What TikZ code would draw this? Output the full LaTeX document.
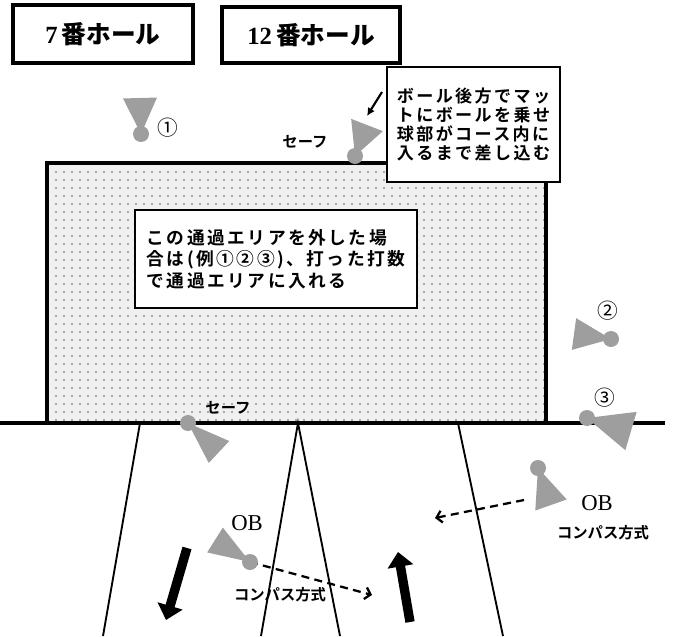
\documentclass[tikz,border=0pt]{standalone}
\usepackage{fontspec}
\setmainfont{Liberation Serif}
\newfontfamily\jp{Noto Sans CJK JP}
\newfontfamily\jpbold{Noto Sans CJK JP Bold}
\newfontfamily\jpwide{Noto Sans CJK JP Bold}[LetterSpace=14]
\usetikzlibrary{arrows.meta,calc,patterns.meta}

% tee marker: ball, centre of the cone base, half width of the base
\newcommand{\teemark}[3]{%
  \fill[teefill] (#1) -- ($(#2)!#3!90:(#1)$) -- ($(#2)!#3!-90:(#1)$) -- cycle;
  \fill[teefill] (#1) circle[radius = 6pt];}

\begin{document}
\begin{tikzpicture}
    [x = 0.75pt, y = -0.75pt,
    teefill/.style = {black!38},
    holebox/.style = {draw, line width = 2.3pt, inner sep = 0pt,
      font = \fontsize{18.5pt}{20pt}\selectfont},
    notebox/.style = {draw, line width = 1pt, fill = white, align = left, inner sep = 0pt},
    course/.style = {line width = 1.4pt},
    bigarrow/.style = {line width = 7pt, -{Triangle[length = 11pt, width = 19pt]}},
    compass/.style = {line width = 1.7pt, dash pattern = on 6pt off 4pt,
      -{Straight Barb[length = 4pt, width = 9pt]}},
    circlemark/.style = {font = \jp\fontsize{15.5pt}{15.5pt}\selectfont},
    small/.style = {font = \jpbold\fontsize{11.5pt}{11.5pt}\selectfont},
    obtext/.style = {font = \fontsize{17pt}{17pt}\selectfont}]
    \useasboundingbox (0, 0) rectangle (675, 636);
    % passing area and the edge of the course
    \draw[line width = 2.3pt, preaction = {fill = gray!12},
      pattern = {Dots[distance = 6pt, radius = 0.9pt]}, pattern color = gray!85]
      (47, 163) rectangle (546, 423);
    \draw[line width = 2.3pt] (0, 423) -- (665, 423);
    \coordinate (t1) at (140, 423); \coordinate (b1) at (103, 636);
    \coordinate (t2) at (298, 423); \coordinate (b2) at (261, 636);
    \coordinate (b3) at (340, 636);
    \coordinate (t3) at (458, 423); \coordinate (b4) at (503, 636);
    \draw[course] (t1) -- (b1); \draw[course] (b2) -- (t2) -- (b3);
    \draw[course] (t3) -- (b4);
    % holes
    \node[holebox, minimum width = 135pt, minimum height = 43.5pt] (h7)
      at (103, 34) {\bfseries 7\,\jpbold 番ホール};
    \node[holebox, minimum width = 133.5pt, minimum height = 42pt] (h12)
      at (311, 35) {\bfseries 12\,\jpbold 番ホール};
    % notes
    \node[notebox, minimum width = 129.75pt, minimum height = 86.25pt,
      font = \jpwide\fontsize{12.8pt}{14.25pt}\selectfont] (note) at (473.5, 124.5)
      {ボール後方でマッ\\トにボールを乗せ\\球部がコース内に\\入るまで差し込む};
    \node[notebox, minimum width = 211.5pt, minimum height = 73.5pt,
      font = \jpwide\fontsize{13.3pt}{16pt}\selectfont] (info) at (276, 259)
      {この通過エリアを外した場\\合は(例①②③)、打った打数\\で通過エリアに入れる};
    % balls
    \coordinate (ball1) at (141, 134); \coordinate (ball2) at (611, 339);
    \coordinate (ball3) at (587, 418); \coordinate (safeT) at (355, 156);
    \coordinate (safeB) at (188, 423); \coordinate (obL) at (250, 562);
    \coordinate (obR) at (538, 468);
    \coordinate (aimA) at (382, 92); \coordinate (aimB) at (367, 116);
    \draw[line width = 1.6pt, -{Latex[length = 6pt, width = 6pt]}] (aimA) -- (aimB);
    \coordinate (cpL) at (372, 595); \coordinate (cpR0) at (524, 500);
    \coordinate (cpR) at (435, 518);
    \draw[compass] (obL) -- (cpL); \draw[compass] (cpR0) -- (cpR);
    \teemark{ball1}{140, 98}{12.75pt}
    \teemark{safeT}{367, 125}{12.75pt}
    \teemark{ball2}{574, 334}{12pt}
    \teemark{ball3}{631, 431}{15pt}
    \teemark{safeB}{219, 452}{11.25pt}
    \teemark{obL}{215, 540}{11pt}
    \teemark{obR}{551, 505}{12.5pt}
    % labels
    \node[circlemark] (n1) at (168, 128) {①};
    \node[circlemark] (n2) at (608, 311) {②};
    \node[circlemark] (n3) at (605, 398) {③};
    \node[small] (s1) at (305, 142) {セーフ};
    \node[small] (s2) at (228, 408) {セーフ};
    \node[obtext] (ob1) at (247, 523) {OB};
    \node[obtext] (ob2) at (597, 503) {OB};
    \node[small] (c1) at (280, 595) {コンパス方式};
    \node[small] (c2) at (603, 533) {コンパス方式};
    % direction of play
    \draw[bigarrow] (187, 548) -- (166, 620);
    \draw[bigarrow] (410, 622) -- (398, 552);
\end{tikzpicture}
\end{document}
